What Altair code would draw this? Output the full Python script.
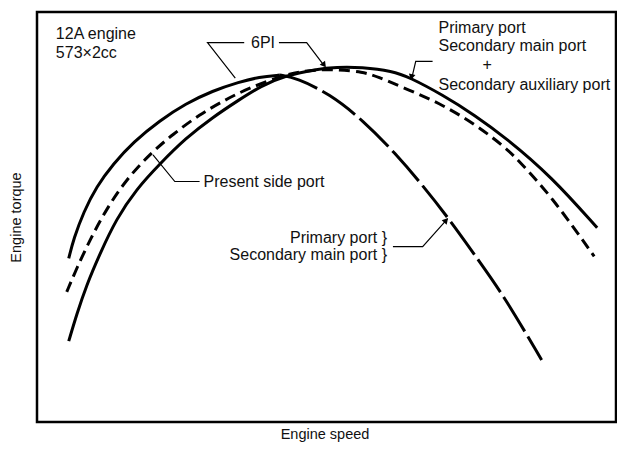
import altair as alt
import pandas as pd

# ---- curve readings (arbitrary units: engine speed, engine torque) ----
a_rise_x = [32, 37, 47, 60, 77, 97, 124, 150, 177, 204, 224, 245]
a_rise_y = [166, 186, 213, 239, 262, 284, 306, 323, 336, 345, 350, 352]
a_fall_x = [245, 262, 295, 329, 362, 389, 415, 449, 472, 509]
a_fall_y = [352, 349, 333, 306, 272, 240, 207, 159, 126, 63]
b_x = [30, 40, 54, 70, 90, 114, 137, 164, 190, 214, 252, 275, 302, 329, 342, 375, 409, 442, 472, 485, 519, 562]
b_y = [132, 156, 186, 216, 246, 272, 292, 312, 327, 339, 353, 357, 358, 355, 351, 337, 322, 302, 279, 266, 229, 168]
c_x = [32, 40, 50, 64, 80, 100, 124, 150, 177, 204, 226, 249, 282, 302, 327, 359, 375, 409, 442, 472, 519, 565]
c_y = [82, 109, 139, 172, 206, 236, 262, 288, 309, 327, 341, 351, 358, 360, 360, 356, 350, 332, 311, 289, 249, 197]

# ---- annotation pointers (polylines) ----
ptr_names = ["6pi_left", "6pi_right", "pap", "side", "psm"]
ptr_x = [[209, 172, 200], [244, 272, 290], [399, 382, 378], [117, 139, 164], [359, 389, 414]]
ptr_y = [[385, 385, 349], [385, 385, 361], [366, 366, 349], [271, 244, 244], [178, 178, 206]]
arrow_x = [289, 378, 412]
arrow_y = [363, 351, 204]
arrow_angle = [143, 193, 42]

# ---- labels ----
left_labels = ["12A engine", "573×2cc", "Primary port", "Secondary main port",
               "Secondary auxiliary port", "Present side port"]
left_x = [19, 19, 405, 405, 405, 168]
left_y = [394, 374, 400, 381, 342, 244]
center_labels = ["6PI", "+"]
center_x = [228, 454]
center_y = [385, 362]
right_labels = ["Primary port }", "Secondary main port }"]
right_x = [353, 353]
right_y = [187, 169]

FONT = "Liberation Sans"
FS = 16
W, H = 579, 410


def frame(xs, ys, name):
    return pd.DataFrame({"speed": xs, "torque": ys, "curve": name, "order": range(len(xs))})


xscale = alt.Scale(domain=[0, 584], nice=False, zero=False)
yscale = alt.Scale(domain=[0, 416], nice=False, zero=False)

X = alt.X("speed:Q", scale=xscale,
          axis=alt.Axis(title="Engine speed", labels=False, ticks=False, domain=False, grid=False,
                        titleX=W / 2 - 2, titleY=12, titleAlign="center", titleBaseline="middle",
                        titleFont=FONT, titleFontSize=14.5, titleFontWeight="normal", titleColor="#111"))
Y = alt.Y("torque:Q", scale=yscale,
          axis=alt.Axis(title="Engine torque", labels=False, ticks=False, domain=False, grid=False,
                        titleX=-21, titleY=205, titleAngle=270, titleAlign="center", titleBaseline="middle",
                        titleFont=FONT, titleFontSize=14.5, titleFontWeight="normal", titleColor="#111"))

solid = pd.concat([frame(a_rise_x, a_rise_y, "6PI (low speed)"),
                   frame(c_x, c_y, "Primary + secondary main + secondary auxiliary port")])
dashed = frame(b_x, b_y, "Present side port")
longdash = frame(a_fall_x, a_fall_y, "Primary + secondary main port")

base_line = dict(strokeWidth=3, color="black", interpolate="basis", strokeCap="butt")

l_solid = alt.Chart(solid).mark_line(**base_line).encode(
    x=X, y=Y, detail="curve:N", order="order:Q")
l_dash = alt.Chart(dashed).mark_line(strokeDash=[11, 6], **base_line).encode(
    x=X, y=Y, order="order:Q")
l_long = alt.Chart(longdash).mark_line(strokeDash=[40, 6], **base_line).encode(
    x=X, y=Y, order="order:Q")

ptr_rows = []
for n, xs, ys in zip(ptr_names, ptr_x, ptr_y):
    for i, (xx, yy) in enumerate(zip(xs, ys)):
        ptr_rows.append({"speed": xx, "torque": yy, "ptr": n, "order": i})
ptr_df = pd.DataFrame(ptr_rows)
l_ptr = alt.Chart(ptr_df).mark_line(strokeWidth=1.2, color="black").encode(
    x=X, y=Y, detail="ptr:N", order="order:Q")

arr_df = pd.DataFrame({"speed": arrow_x, "torque": arrow_y, "angle": arrow_angle})
l_arr = alt.Chart(arr_df).mark_point(shape="triangle", filled=True, size=45, color="black", opacity=1).encode(
    x=X, y=Y, angle=alt.Angle("angle:Q", scale=None))

t_left = alt.Chart(pd.DataFrame({"speed": left_x, "torque": left_y, "label": left_labels})).mark_text(
    align="left", baseline="middle", font=FONT, fontSize=FS, color="#111").encode(x=X, y=Y, text="label:N")
t_center = alt.Chart(pd.DataFrame({"speed": center_x, "torque": center_y, "label": center_labels})).mark_text(
    align="center", baseline="middle", font=FONT, fontSize=FS, color="#111").encode(x=X, y=Y, text="label:N")
t_right = alt.Chart(pd.DataFrame({"speed": right_x, "torque": right_y, "label": right_labels})).mark_text(
    align="right", baseline="middle", font=FONT, fontSize=FS, color="#111").encode(x=X, y=Y, text="label:N")

chart = alt.layer(l_solid, l_dash, l_long, l_ptr, l_arr, t_left, t_center, t_right).properties(
    width=W, height=H,
    background="white",
    autosize=alt.AutoSizeParams(type="none"),
    padding={"left": 29, "top": 4, "right": 1, "bottom": 21},
).configure_view(stroke="black", strokeWidth=2.5)

chart.save("out.html", embed_options={"renderer": "svg", "actions": False})
